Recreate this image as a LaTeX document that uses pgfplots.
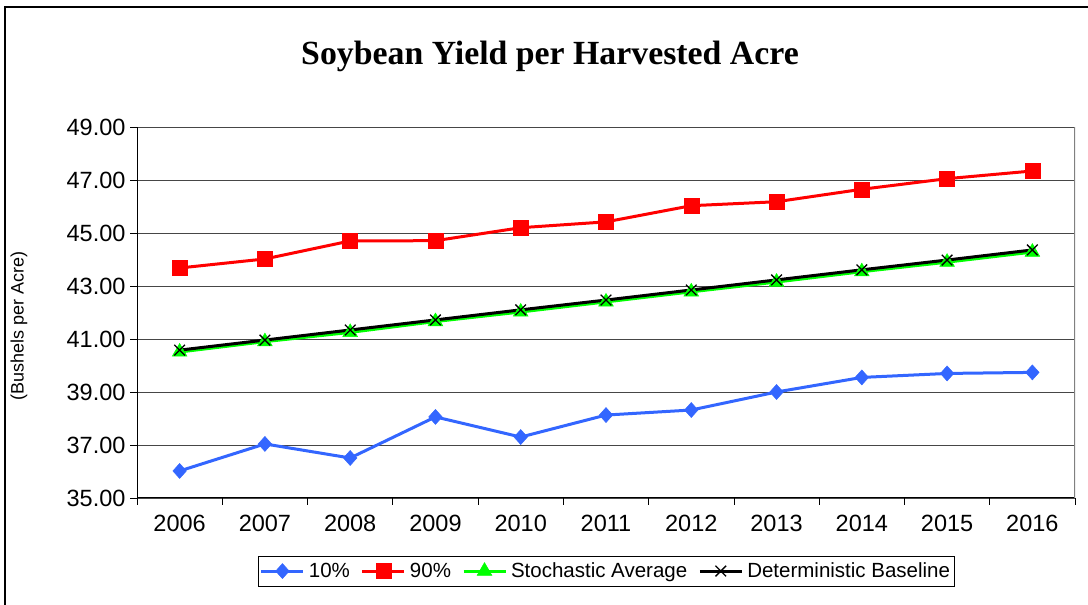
\documentclass[border=0pt]{standalone}
\usepackage{pgfplots}
\pgfplotsset{compat=1.18}
\usepackage{fontspec}
\setmainfont{Liberation Sans}
\newfontfamily\titlefont{Liberation Serif}
\definecolor{tenblue}{RGB}{51,102,255}
\definecolor{gridgray}{RGB}{70,70,70}

\begin{document}
\begin{tikzpicture}
\useasboundingbox (0,0) rectangle (1088pt,605pt);
\draw[line width=1.5pt] (5pt,0) -- (5pt,598pt) -- (1088pt,598pt);
\node[font=\titlefont\bfseries\fontsize{33.8}{38}\selectfont] at (550pt,549pt) {Soybean Yield per Harvested Acre};
\node[rotate=90, font=\fontsize{18}{21}\selectfont] at (19pt,279pt) {(Bushels per Acre)};
\begin{axis}[
    at={(137pt,107pt)}, anchor=south west,
    scale only axis, width=938pt, height=371pt,
    xmin=-0.5, xmax=10.5, ymin=35, ymax=49,
    axis x line*=bottom, axis y line*=left,
    axis line style={black, line width=1pt},
    xtick={0,...,10},
    xticklabels={2006,2007,2008,2009,2010,2011,2012,2013,2014,2015,2016},
    major x tick style={draw=none},
    minor xtick={-0.5,0.5,...,10.5},
    minor x tick style={black, line width=0.8pt},
    minor tick length=7pt,
    ytick={35,37,...,49},
    yticklabel={\pgfmathprintnumber[fixed,fixed zerofill,precision=2]{\tick}},
    ytick style={black, line width=0.8pt},
    major tick length=7pt,
    tick align=outside,
    ymajorgrids, grid style={gridgray, line width=0.9pt},
    ticklabel style={font=\fontsize{23.5}{27}\selectfont},
    /pgf/number format/assume math mode=true,
    xticklabel style={yshift=-7pt},
    yticklabel style={xshift=-1pt},
    legend columns=4,
    legend style={at={(0.5,-0.155)}, anchor=north, draw=black, line width=0.8pt,
        font=\fontsize{20.5}{24}\selectfont, inner xsep=2pt, inner ysep=5pt,
        /tikz/every odd column/.append style={column sep=2pt},
        /tikz/every even column/.append style={column sep=9pt}},
    legend image code/.code={
        \draw[#1, mark repeat=2, mark phase=2] plot coordinates {(0pt,0pt) (21pt,0pt) (42pt,0pt)};},
    every axis plot/.append style={line width=3pt},
]
\draw[gray, line width=1.2pt] (rel axis cs:1,0) -- (rel axis cs:1,1);
\addplot[tenblue, mark=diamond*, mark size=7.5pt, mark options={line width=0.5pt, xscale=1.2}] coordinates {
(0,36.02) (1,37.04) (2,36.51) (3,38.06) (4,37.30) (5,38.13)
(6,38.32) (7,39.00) (8,39.55) (9,39.70) (10,39.74)};
\addplot[red, mark=square*, mark size=7.5pt, mark options={line width=0.5pt}] coordinates {
(0,43.68) (1,44.02) (2,44.70) (3,44.71) (4,45.20) (5,45.42)
(6,46.03) (7,46.18) (8,46.65) (9,47.05) (10,47.34)};
\addplot[green, mark=triangle*, mark size=8.5pt, mark options={line width=0.5pt}] coordinates {
(0,40.51) (1,40.90) (2,41.25) (3,41.66) (4,42.02) (5,42.40)
(6,42.78) (7,43.15) (8,43.54) (9,43.90) (10,44.28)};
\addplot[black, mark=x, mark size=7.5pt, mark options={line width=1.3pt}] coordinates {
(0,40.58) (1,40.96) (2,41.34) (3,41.72) (4,42.10) (5,42.47)
(6,42.85) (7,43.23) (8,43.61) (9,43.98) (10,44.36)};
\legend{10\%, 90\%, Stochastic Average, Deterministic Baseline}
\end{axis}
\end{tikzpicture}
\end{document}
